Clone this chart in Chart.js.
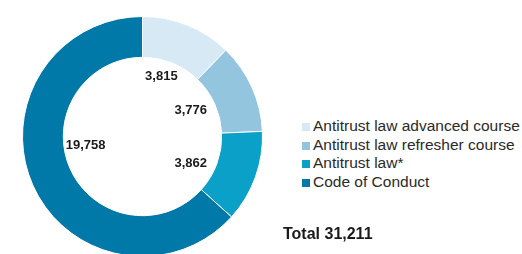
<!DOCTYPE html>
<html>
<head>
<meta charset="utf-8">
<script src="https://cdn.jsdelivr.net/npm/chart.js@4.4.1/dist/chart.umd.min.js"></script>
<style>
  html, body { margin: 0; padding: 0; background: #fff; overflow: hidden; }
  #wrap { position: absolute; left: 0; top: 0; width: 290px; height: 260px; }
  #legend { position: absolute; left: 302px; top: 117px; font: 15.5px "Liberation Sans", Arial, sans-serif; color: #2a2a2a; }
  #legend div { height: 18.5px; line-height: 18.5px; white-space: nowrap; }
  #legend span { display: inline-block; width: 8px; height: 8px; margin-right: 3px; vertical-align: 0px; }
  #total { position: absolute; left: 283px; top: 225px; font: bold 16px "Liberation Sans", Arial, sans-serif; color: #1a1a1a; }
</style>
</head>
<body>
<div id="wrap"><canvas id="donut"></canvas></div>
<div id="legend"></div>
<div id="total"></div>
<script>
const categories = ['Antitrust law advanced course', 'Antitrust law refresher course', 'Antitrust law*', 'Code of Conduct'];
const participants = [3815, 3776, 3862, 19758];
const colors = ['#d6e9f5', '#93c5df', '#0ba0c7', '#0079a9'];
const totalLabel = 'Total';

const fmt = n => n.toLocaleString('en-US');

// legend + total as html text
const legendEl = document.getElementById('legend');
categories.forEach((c, i) => {
    const row = document.createElement('div');
    row.innerHTML = '<span style="background:' + colors[i] + '"></span>' + c;
    legendEl.appendChild(row);
});
const total = participants.reduce((a, b) => a + b, 0);
document.getElementById('total').textContent = totalLabel + ' ' + fmt(total);

// numbers inside the hole, next to each segment
const innerLabels = {
    id: 'innerLabels',
    afterDatasetsDraw(chart, args, opts) {
        const ctx = chart.ctx;
        const meta = chart.getDatasetMeta(0);
        ctx.save();
        ctx.font = 'bold 13px "Liberation Sans", Arial, sans-serif';
        ctx.fillStyle = '#1a1a1a';
        ctx.textAlign = 'center';
        ctx.textBaseline = 'middle';
        meta.data.forEach((arc, i) => {
            const p = arc.getProps(['x', 'y', 'startAngle', 'endAngle', 'innerRadius']);
            const mid = (p.startAngle + p.endAngle) / 2 + (opts.turn[i] || 0);
            const r = p.innerRadius - 10 + (opts.reach[i] || 0);
            const text = fmt(chart.data.datasets[0].data[i]);
            const w = ctx.measureText(text).width;
            const cos = Math.cos(mid), sin = Math.sin(mid);
            const x = p.x + r * cos - (w / 2) * cos;
            const y = p.y + r * sin - 5 * sin;
            ctx.fillText(text, x, y);
        });
        ctx.restore();
    }
};

new Chart(document.getElementById('donut'), {
    type: 'doughnut',
    data: {
        labels: categories,
        datasets: [{
            data: participants,
            backgroundColor: colors,
            borderColor: '#ffffff',
            borderWidth: 1
        }]
    },
    options: {
        responsive: true,
        maintainAspectRatio: false,
        animation: false,
        cutout: '66%',
        layout: { padding: { left: 22, top: 16, right: 27, bottom: 3 } },
        plugins: {
            legend: { display: false },
            tooltip: { enabled: false },
            innerLabels: { turn: [-0.02, 0, 0.08, 0.3], reach: [0, 0, 0, 8] }
        }
    },
    plugins: [innerLabels]
});
</script>
</body>
</html>
